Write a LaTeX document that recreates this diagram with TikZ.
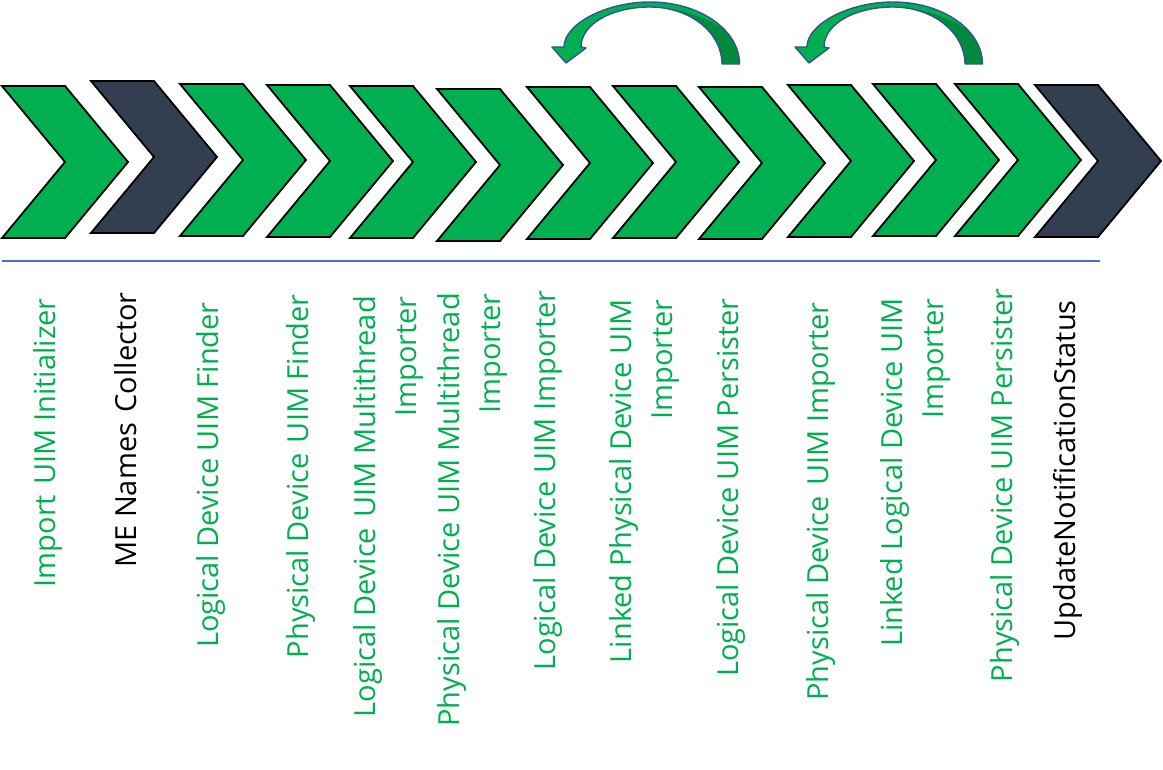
\documentclass[tikz,border=0pt]{standalone}
\usepackage{fontspec}
\setmainfont{Open Sans}
\definecolor{cgreen}{HTML}{00B050}
\definecolor{cdark}{HTML}{333F50}
\definecolor{cdeep}{HTML}{008A3E}
\definecolor{cline}{HTML}{4472C4}
\definecolor{cedge}{HTML}{2F5597}
\newcommand\myarrowpath{(739.5,64) .. controls (739.5,29.8) and (699.4,2) .. (650,2) .. controls (606,2) and (564,24) .. (564,47) -- (552,47) -- (566,63) -- (586,48) -- (581,47) .. controls (581,24) and (612,7) .. (650,7) .. controls (689.8,7) and (722,32.5) .. (722,64) -- cycle}
\newcommand\dsp{\ \hspace{0.1em}}
\tikzset{
  chevbox/.style={draw=black, line width=1.8pt, line join=miter},
  lbl/.style={rotate=90, anchor=base east, inner sep=0pt, align=right,
    font=\fontsize{29}{40.5}\selectfont, text=cgreen},
  curvarrow/.pic={
    \fill[cgreen] \myarrowpath;
    \begin{scope}
      \clip \myarrowpath;
      \fill[cdeep] (650,7) .. controls (690,9) and (722,22) .. (745,48) -- (745,70) -- (650,70) -- cycle;
    \end{scope}
    \draw[cedge, line width=1.4pt, line join=round] \myarrowpath;
  }
}
\begin{document}
\begin{tikzpicture}[x=1pt,y=-1pt]
\useasboundingbox (0,0) rectangle (1163,770);
% chevrons
\foreach \L/\T/\c in {2/86/cgreen, 91/81/cdark, 180/84/cgreen, 267/85/cgreen, 350/86/cgreen, 437/89/cgreen, 527/87/cgreen, 613/86/cgreen, 699/87/cgreen, 788/85/cgreen, 873/84/cgreen, 955/84/cgreen, 1035/85/cdark}
  \draw[chevbox, fill=\c] (\L,\T) -- ++(63,0) -- ++(63,76) -- ++(-63,76) -- ++(-63,0) -- ++(63,-76) -- cycle;
% curved arrows
\pic at (0,0) {curvarrow};
\pic at (243,0) {curvarrow};
% separator
\coordinate (sepA) at (2,261);
\coordinate (sepB) at (1100,261);
\draw[cline, line width=1.3pt] (sepA) -- (sepB);
% labels
\node[lbl] (l1) at (55,298) {Import\dsp UIM Initializer};
\node[lbl, text=black] (l2) at (136,292) {ME Names\dsp Collector};
\node[lbl] (l3) at (218,302) {Logical Device UIM Finder};
\node[lbl] (l4) at (308,294) {Physical Device\dsp UIM Finder};
\node[lbl] (l5) at (416,296) {Logical Device\dsp UIM Multithread\\Importer};
\node[lbl] (l6) at (500,293) {Physical Device UIM Multithread\\Importer};
\node[lbl] (l7) at (555,290) {Logical Device UIM Importer};
\node[lbl] (l8) at (672,299) {Linked Physical Device UIM\\Importer};
\node[lbl] (l9) at (738,298) {Logical Device UIM Persister};
\node[lbl] (l10) at (828,302) {Physical Device\dsp UIM Importer};
\node[lbl] (l11) at (943,298) {Linked Logical Device UIM\\Importer};
\node[lbl] (l12) at (1012,288) {Physical Device UIM Persister};
\node[lbl, text=black] (l13) at (1075,300) {UpdateNotificationStatus};
\end{tikzpicture}
\end{document}
